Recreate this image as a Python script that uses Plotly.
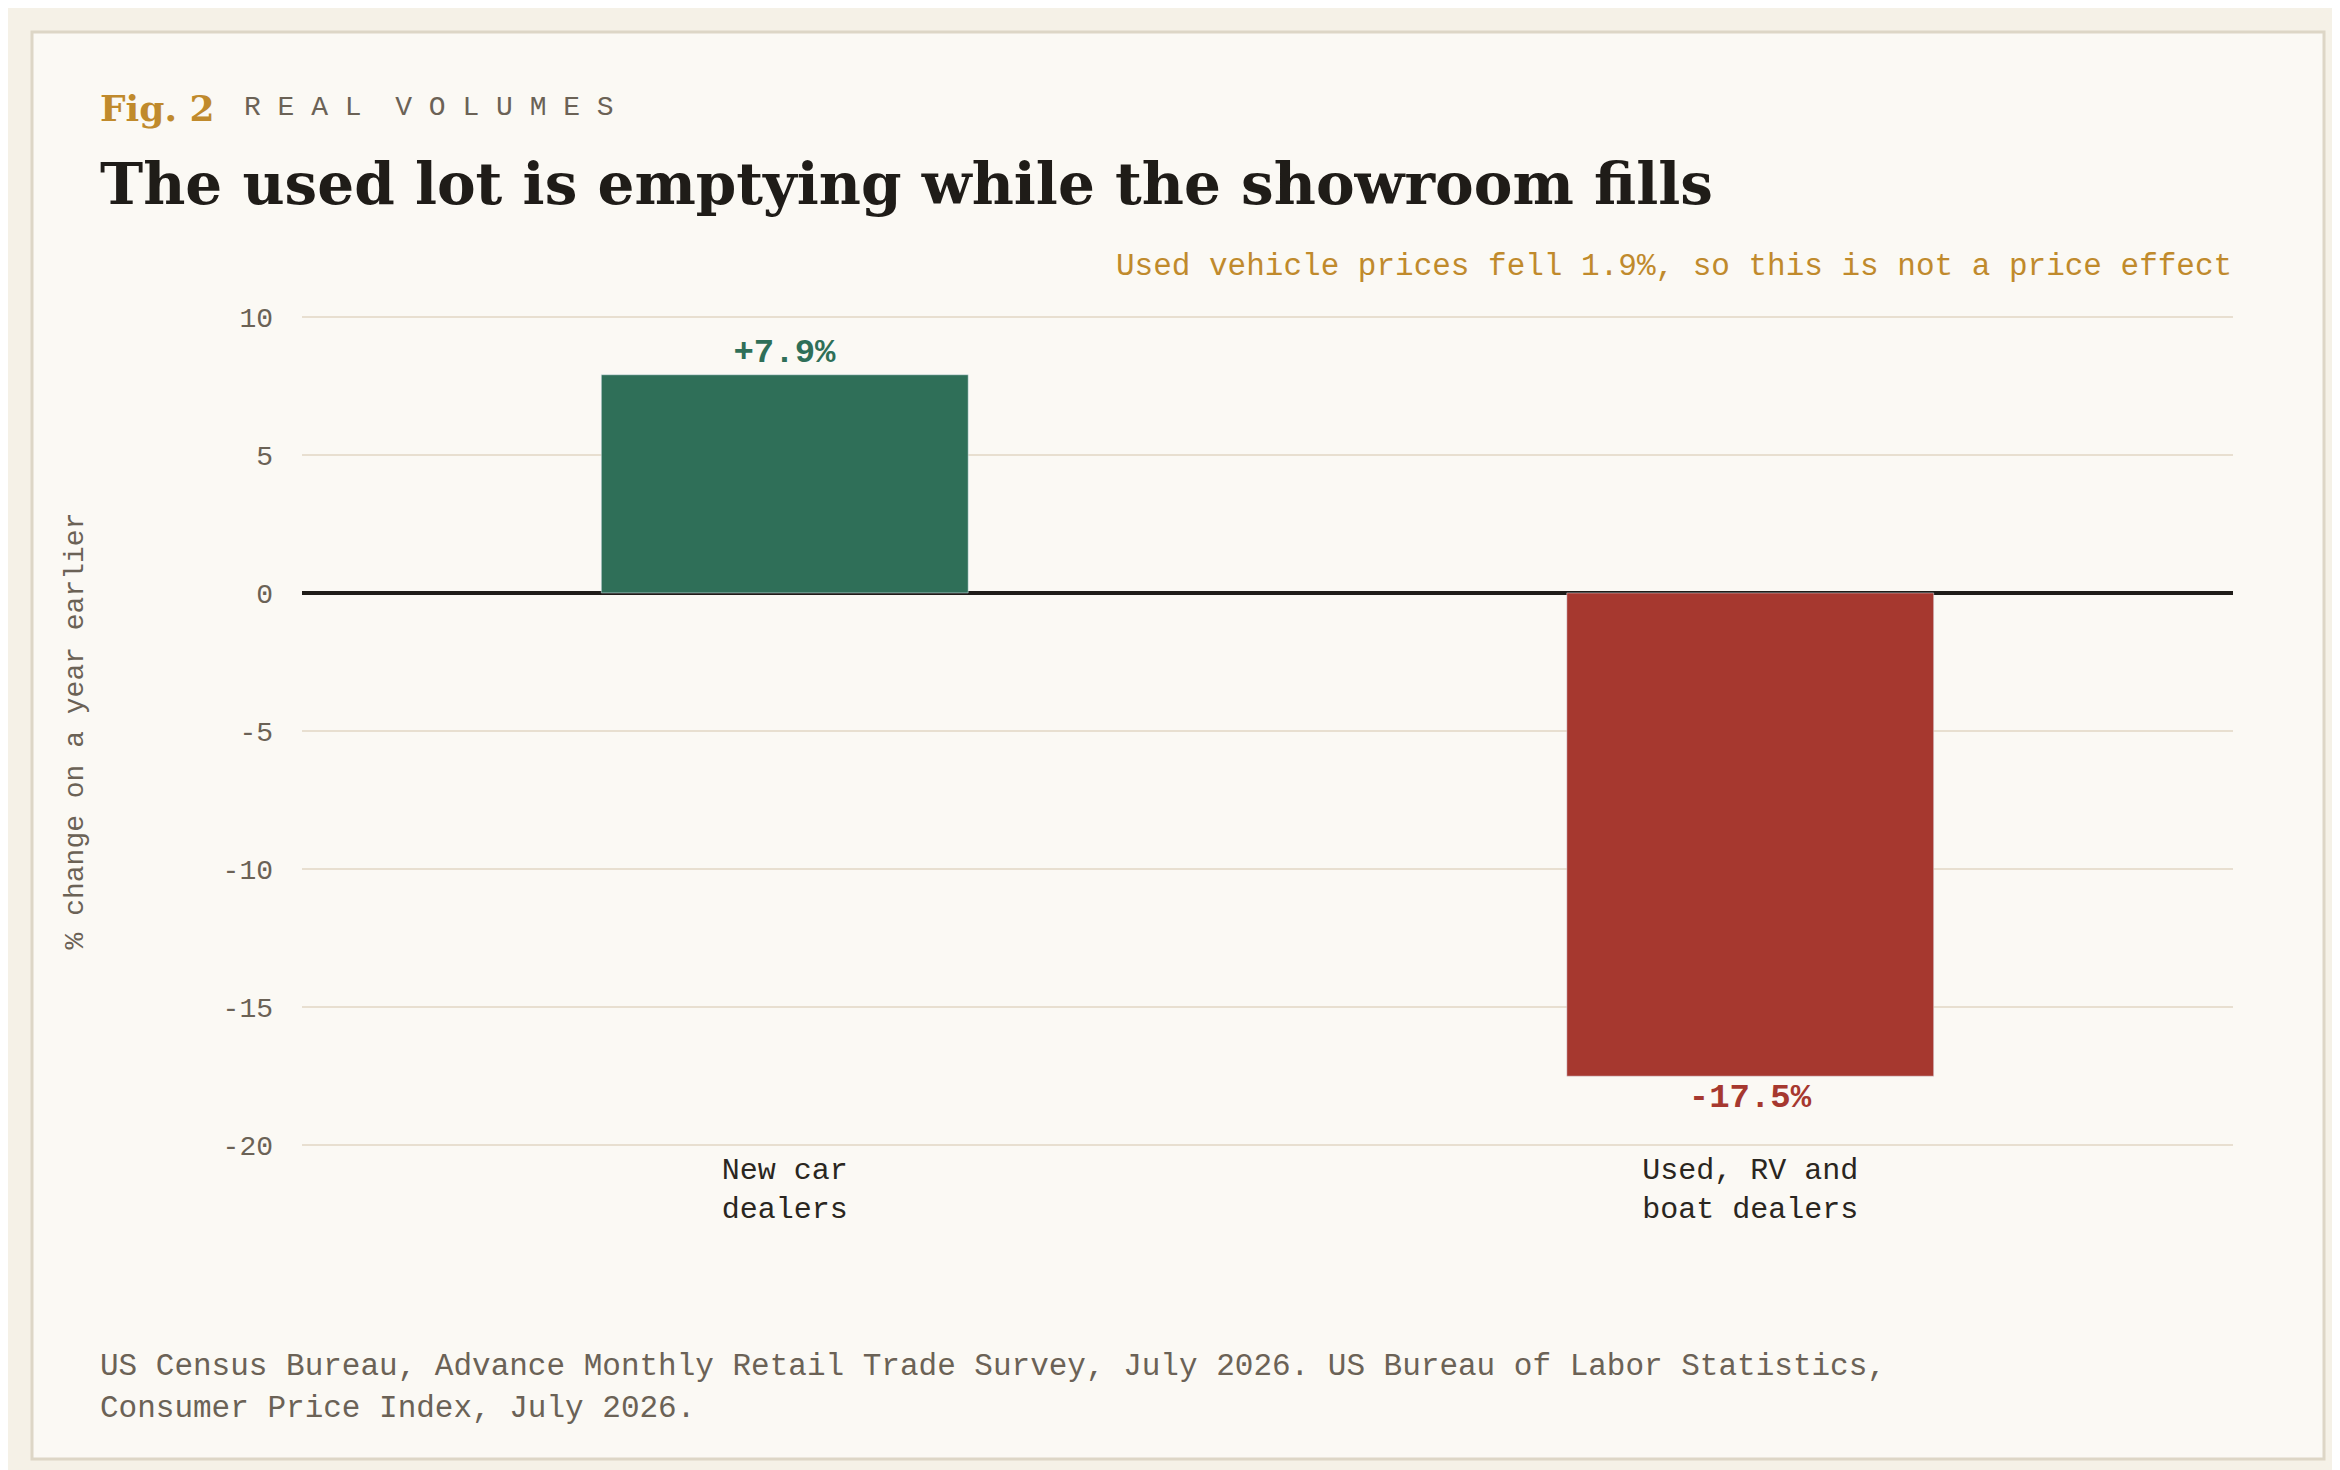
import plotly.graph_objects as go

categories = ["New car<br>dealers", "Used, RV and<br>boat dealers"]
values = [7.9, -17.5]
labels = ["<b>+7.9%</b>", "<b>-17.5%</b>"]
colors = ["#2f6f58", "#a6382f"]
tickvals = [10, 5, 0, -5, -10, -15, -20]
ticktext = ["10", "5", "0", "-5", "-10", "-15", "-20"]

W, H = 2340, 1470
mono = "Liberation Mono, DejaVu Sans Mono, monospace"
serif = "DejaVu Serif, Liberation Serif, serif"

fig = go.Figure()
fig.add_trace(go.Bar(
    x=categories, y=values, marker_color=colors, width=0.38,
    text=labels, textposition="outside", cliponaxis=False,
    textfont=dict(family=mono, size=34, color=colors),
    hoverinfo="skip",
))
fig.update_layout(
    width=W, height=H, showlegend=False,
    paper_bgcolor="#f5f1e7", plot_bgcolor="#fbf9f4",
    margin=dict(l=294, r=115, t=306, b=330),
    xaxis=dict(tickfont=dict(family=mono, size=30, color="#2a2620"),
               showgrid=False, showline=False, ticks=""),
    yaxis=dict(range=[-20.1, 10.1], tickvals=tickvals, ticktext=ticktext,
               gridcolor="#e8dfd0", gridwidth=2,
               zeroline=True, zerolinecolor="#1f1c18", zerolinewidth=4,
               tickfont=dict(family=mono, size=28, color="#6b6256"),
               ticklabelstandoff=28,
               title=dict(text="% change on a year earlier", standoff=130,
                          font=dict(family=mono, size=28, color="#6b6256"))),
    shapes=[dict(type="rect", xref="paper", yref="paper", layer="below",
                 x0=-270/1931, x1=1+91/1931, y0=-311/834, y1=1+282/834,
                 fillcolor="#fbf9f4", line=dict(color="#ddd6c6", width=3))],
)

def px(x):
    return (x - 294) / 1931

def py(y):
    return 1 - (y - 306) / 834

for t, x, y, s, c, f, a, b in [
    ("Fig. 2", 90, 100, 36, "#c08a2c", serif, "left", True),
    ("R E A L  V O L U M E S", 234, 100, 28, "#6b6256", mono, "left", False),
    ("The used lot is emptying while the showroom fills", 90, 176, 58, "#1f1c18", serif, "left", True),
    ("Used vehicle prices fell 1.9%, so this is not a price effect", 2226, 259, 31, "#c08a2c", mono, "right", False),
    ("US Census Bureau, Advance Monthly Retail Trade Survey, July 2026. US Bureau of Labor Statistics,", 90, 1358, 31, "#6b6256", mono, "left", False),
    ("Consumer Price Index, July 2026.", 90, 1400, 31, "#6b6256", mono, "left", False),
]:
    fig.add_annotation(text=("<b>" + t + "</b>") if b else t, x=px(x), y=py(y),
                       xref="paper", yref="paper", xanchor=a, yanchor="middle",
                       showarrow=False, font=dict(size=s, color=c, family=f))

fig.write_html("out.html")
